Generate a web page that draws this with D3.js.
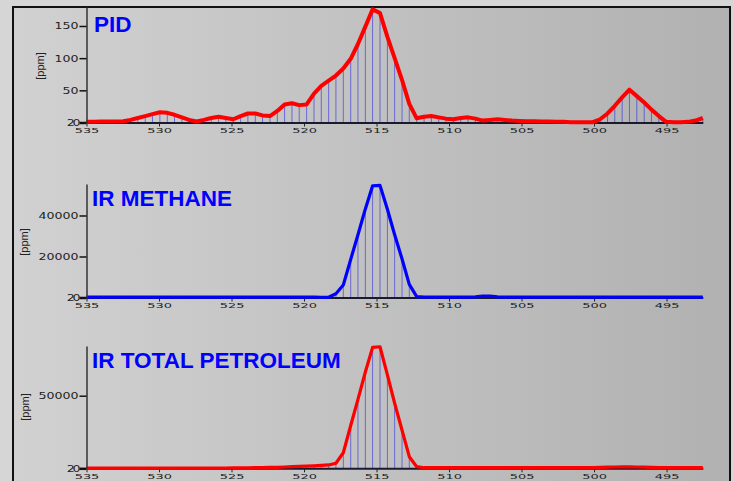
<!doctype html>
<html lang="en">
<head>
<meta charset="utf-8">
<title>PID / IR scan</title>
<script src="https://cdn.jsdelivr.net/npm/d3@7"></script>
<style>
  html, body { margin: 0; padding: 0; background: #d6d6d6; }
  svg { display: block; }
</style>
</head>
<body>
<svg id="chart" width="734" height="481"></svg>
<script>
// scan positions (x axis runs from 535 down to 492.5)
var positions = [535.00,534.49,533.99,533.48,532.98,532.47,531.96,531.46,530.95,530.45,
  529.94,529.43,528.93,528.42,527.92,527.41,526.90,526.40,525.89,525.39,
  524.88,524.37,523.87,523.36,522.86,522.35,521.84,521.34,520.83,520.33,
  519.82,519.31,518.81,518.30,517.80,517.29,516.78,516.28,515.77,515.27,
  514.76,514.25,513.75,513.24,512.74,512.23,511.72,511.22,510.71,510.21,
  509.70,509.19,508.69,508.18,507.68,507.17,506.66,506.16,505.65,505.15,
  504.64,504.13,503.63,503.12,502.62,502.11,501.60,501.10,500.59,500.09,
  499.58,499.07,498.57,498.06,497.56,497.05,496.54,496.04,495.53,495.03,
  494.52,494.01,493.51,493.00,492.50];

var pidValues = [1,1,1.5,1.5,1.5,2,4,7,10,13,
  16,15,12,8,4,1.5,4,7,9,7,
  5,10,14,14,11,10,18,28,30,27,
  28,45,57,65,73,84,99,122,149,176,
  170,133,100,66,29,6.5,9,10,8,6,
  5,7,8,6,3,4,5,4,3,2.5,
  2,2,1.5,1.5,1,1,0.5,0.5,0.5,0.5,
  5,14,26,39,51,41,31,20,10,1,
  0.5,0.5,1,3,7];

var methaneValues = [150,150,150,150,150,150,150,150,150,150,
  150,150,150,150,150,150,150,150,150,150,
  150,150,150,150,150,150,150,150,150,150,
  150,150,120,100,1850,6100,18600,30600,43200,54500,
  54700,43000,30600,18800,6400,400,150,150,150,200,
  200,200,200,300,700,700,300,150,150,150,
  150,150,150,150,150,150,150,150,150,150,
  150,150,150,150,150,150,150,150,150,150,
  150,150,150,150,150];

var petroleumValues = [200,200,200,200,200,200,200,200,200,200,
  200,200,200,200,200,200,200,200,200,200,
  250,300,350,400,500,600,700,900,1100,1300,
  1500,1700,2000,2300,3500,10700,29500,47500,66300,83300,
  83700,64300,44800,26200,8000,1100,400,400,400,400,
  400,400,400,400,400,400,400,400,400,400,
  400,400,400,400,400,400,400,400,400,400,
  600,800,900,1000,1000,900,800,600,500,400,
  400,400,400,400,400];

var xTicks = [535, 530, 525, 520, 515, 510, 505, 500, 495];
var pidTicks = [0, 50, 100, 150];
var methaneTicks = [0, 20000, 40000];
var petroleumTicks = [0, 50000];
var zeroLabel = "20";
var titles = ["PID", "IR METHANE", "IR TOTAL PETROLEUM"];
var unitLabel = "[ppm]";

var panels = [
  { values: pidValues, ticks: pidTicks, title: titles[0], color: "#ff0000",
    top: 7, base: 122.5, max: 179.5, unitX: 40, unitY: 66, titleX: 94, titleY: 32, lw: 4 },
  { values: methaneValues, ticks: methaneTicks, title: titles[1], color: "#0000ff",
    top: 184, base: 297.5, max: 55360, unitX: 24, unitY: 242, titleX: 92, titleY: 206, lw: 3.2 },
  { values: petroleumValues, ticks: petroleumTicks, title: titles[2], color: "#ff0000",
    top: 346, base: 468.3, max: 84230, unitX: 25, unitY: 407, titleX: 92, titleY: 368, lw: 3.2 }
];

var svg = d3.select("#chart");

var defs = svg.append("defs");
var grad = defs.append("linearGradient").attr("id", "bg").attr("x1", "0").attr("x2", "1").attr("y1", "0").attr("y2", "0");
grad.append("stop").attr("offset", "0").attr("stop-color", "#d1d1d1");
grad.append("stop").attr("offset", "1").attr("stop-color", "#b1b1b1");

// frame
svg.append("rect").attr("x", 13).attr("y", 7).attr("width", 717).attr("height", 490)
  .attr("fill", "url(#bg)").attr("stroke", "#111").attr("stroke-width", 2);

var x = d3.scaleLinear().domain([535, 492.5]).range([86.5, 702.8]);

panels.forEach(function(p) {
  var y = d3.scaleLinear().domain([0, p.max]).range([p.base, p.top]);
  var g = svg.append("g");

  // drop lines
  g.selectAll(".drop").data(p.values).enter().append("line")
    .attr("x1", function(d, i) { return x(positions[i]); })
    .attr("x2", function(d, i) { return x(positions[i]); })
    .attr("y1", y(0))
    .attr("y2", function(d) { return y(d); })
    .attr("stroke", "rgba(45,45,225,0.6)")
    .attr("stroke-width", 1);

  // x axis
  var xa = g.append("g").attr("transform", "translate(0," + p.base + ")")
    .call(d3.axisBottom(x).tickValues(xTicks).tickSize(4).tickSizeOuter(0));
  xa.select(".domain").attr("stroke", "#1a1a2e").attr("stroke-width", 2);
  xa.selectAll(".tick line").attr("stroke", "#222");
  xa.selectAll(".tick text")
    .attr("y", 10.5 / 0.6).attr("dy", 0)
    .attr("transform", "scale(1.08,0.6)")
    .attr("x", 0)
    .attr("fill", "#222")
    .style("font-family", "DejaVu Sans, Verdana, sans-serif")
    .style("font-size", "12px");

  // series
  var line = d3.line()
    .x(function(d, i) { return x(positions[i]); })
    .y(function(d) { return y(d); });
  g.append("path").datum(p.values)
    .attr("d", line)
    .attr("fill", "none")
    .attr("stroke", p.color)
    .attr("stroke-width", p.lw)
    .attr("stroke-linejoin", "round");

  // y axis
  var ya = g.append("g").attr("transform", "translate(86.5,0)")
    .call(d3.axisLeft(y).tickValues(p.ticks).tickSize(7).tickSizeOuter(0)
      .tickFormat(function(d) { return d === 0 ? zeroLabel : d; }));
  ya.select(".domain").attr("stroke", "#333").attr("stroke-width", 1.5);
  ya.selectAll(".tick line").attr("stroke", "#111").attr("stroke-width", 1.5);
  ya.selectAll(".tick text")
    .attr("fill", "#222")
    .attr("x", -8 / 1.05)
    .attr("transform", "scale(1.05,0.78)")
    .style("font-family", "DejaVu Sans, Verdana, sans-serif")
    .style("font-size", "12px")
    .style("letter-spacing", function(d) { return d === 0 ? "-2px" : null; });
  ya.selectAll(".tick").filter(function(d) { return d === 0; })
    .select("line").attr("stroke-width", 2.5);

  // unit label
  g.append("text")
    .attr("transform", "translate(" + p.unitX + "," + p.unitY + ") rotate(-90)")
    .attr("text-anchor", "middle")
    .attr("dy", "0.35em")
    .attr("fill", "#222")
    .style("font-family", "Liberation Sans, Arial, sans-serif")
    .style("font-size", "11px")
    .text(unitLabel);

  // title
  g.append("text")
    .attr("x", p.titleX).attr("y", p.titleY)
    .attr("fill", "#0000ff")
    .style("font-family", "Liberation Sans, Arial, sans-serif")
    .style("font-weight", "bold")
    .style("font-size", "22.5px")
    .text(p.title);
});
</script>
</body>
</html>
